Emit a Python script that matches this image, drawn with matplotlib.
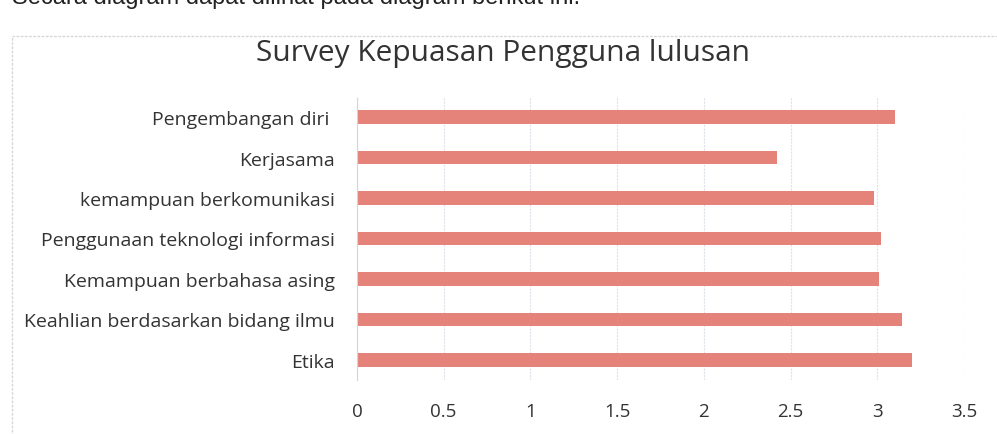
import numpy as np
import matplotlib.pyplot as plt
from matplotlib.patches import Rectangle

kategori = ['Etika', 'Keahlian berdasarkan bidang ilmu', 'Kemampuan berbahasa asing',
            'Penggunaan teknologi informasi', 'kemampuan berkomunikasi', 'Kerjasama',
            'Pengembangan diri ']
nilai = [3.20, 3.14, 3.01, 3.02, 2.98, 2.42, 3.10]
xticks = [0, 0.5, 1, 1.5, 2, 2.5, 3, 3.5]

plt.rcParams['font.family'] = ['Open Sans', 'DejaVu Sans']

fig = plt.figure(figsize=(9.97, 4.35), dpi=100)
ax = fig.add_axes([0.358, 0.124, 0.609, 0.651])

y = np.arange(len(kategori))
ax.barh(y, nilai, height=0.34, color='#e5837a', zorder=2)
ax.set_yticks(y, kategori, fontsize=14, color='#333333')
ax.set_xticks(xticks, [f'{t:g}' for t in xticks], fontsize=13.5, color='#333333')
ax.set_xlim(0, 3.5)
ax.set_ylim(-0.5, len(kategori) - 0.5)
ax.tick_params(axis='both', length=0)
ax.tick_params(axis='x', pad=16)
ax.tick_params(axis='y', pad=16)
ax.grid(axis='x', color='#dde3e8', linewidth=0.8, linestyle=(0, (2, 1)), zorder=0)
for s in ['top', 'right', 'bottom']:
    ax.spines[s].set_visible(False)
ax.spines['left'].set_color('#d0d6da')
ax.spines['left'].set_linestyle((0, (2, 1)))

fig.text(0.505, 0.877, 'Survey Kepuasan Pengguna lulusan', ha='center', va='center',
         fontsize=21.5, color='#333333')

# kutipan teks dokumen hasil scan di atas grafik
fig.text(0.012, 1.005, 'Secara diagram dapat dilihat pada diagram berikut ini.', ha='left',
         va='center', fontsize=17, color='#222222', family=['Liberation Sans', 'DejaVu Sans'])

# bingkai grafik
fig.patches.append(Rectangle((0.012, -0.02), 1.0, 0.935, transform=fig.transFigure,
                             fill=False, edgecolor='#d8d8d8', linewidth=1,
                             linestyle=(0, (2, 1))))

fig.savefig('out.png', dpi=100)
